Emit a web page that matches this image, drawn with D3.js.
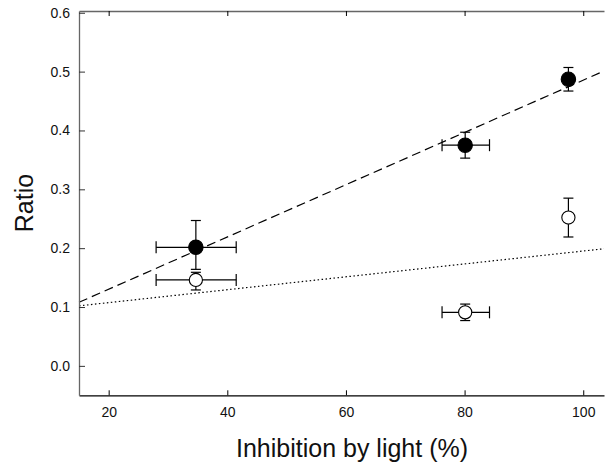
<!DOCTYPE html>
<html><head><meta charset="utf-8">
<script src="https://cdn.jsdelivr.net/npm/d3@7"></script>
<style>body{margin:0;background:#fff}svg{display:block}text{font-family:"Liberation Sans",Arial,sans-serif}</style>
</head><body><svg id="c" width="605" height="467"></svg>
<script>
const xTicks = [20, 40, 60, 80, 100];
const yTicks = [0.0, 0.1, 0.2, 0.3, 0.4, 0.5, 0.6];
// filled series
const filledX = [34.7, 80.1, 97.5];
const filledY = [0.2015, 0.375, 0.487];
const filledXLo = [28.0, 76.2, null];
const filledXHi = [41.5, 84.2, null];
const filledYLo = [0.164, 0.353, 0.467];
const filledYHi = [0.247, 0.397, 0.507];
// open series
const openX = [34.7, 80.1, 97.5];
const openY = [0.146, 0.091, 0.252];
const openXLo = [28.0, 76.2, null];
const openXHi = [41.5, 84.2, null];
const openYLo = [0.129, 0.077, 0.219];
const openYHi = [0.159, 0.105, 0.285];
// fitted lines [x0, x1] -> [y0, y1]
const dashedLineX = [15, 103.5];
const dashedLineY = [0.108, 0.501];
const dottedLineX = [15, 103.5];
const dottedLineY = [0.102, 0.199];

const L = 79, R = 604, T = 11, B = 395.3;
const x = d3.scaleLinear().domain([15, 103.5]).range([L, R]);
const y = d3.scaleLinear().domain([-0.05, 0.603]).range([B, T]);
const svg = d3.select("#c");

// lines
const line = d3.line().x(d => x(d[0])).y(d => y(d[1]));
svg.append("path").attr("d", line(dashedLineX.map((v,i)=>[v, dashedLineY[i]])))
  .attr("fill","none").attr("stroke","#000").attr("stroke-width",1.2).attr("stroke-dasharray","9,5");
svg.append("path").attr("d", line(dottedLineX.map((v,i)=>[v, dottedLineY[i]])))
  .attr("fill","none").attr("stroke","#000").attr("stroke-width",1.2).attr("stroke-dasharray","1.5,2.5");

// axes
const gx = svg.append("g").attr("transform",`translate(0,${B})`)
  .call(d3.axisBottom(x).tickValues(xTicks).tickSizeInner(-5).tickSizeOuter(0).tickPadding(12).tickFormat(d3.format("d")));
const gy = svg.append("g").attr("transform",`translate(${L},0)`)
  .call(d3.axisLeft(y).tickValues(yTicks).tickSizeInner(-6).tickSizeOuter(0).tickPadding(9).tickFormat(d3.format(".1f")));
const gt = svg.append("g").attr("transform",`translate(0,${T})`)
  .call(d3.axisTop(x).tickValues(xTicks).tickSizeInner(-5).tickSizeOuter(0).tickFormat(""));
gx.select(".domain").attr("stroke","#000").attr("stroke-width",1.3);
gy.select(".domain").attr("stroke","#666").attr("stroke-width",1.3);
gt.select(".domain").attr("stroke","#666").attr("stroke-width",1.3);
gy.selectAll(".tick line").attr("stroke","#333");
[gx, gy].forEach(g => g.selectAll("text").attr("font-size",14).attr("fill","#111").style("font-family","'Liberation Sans',Arial,sans-serif"));

// error bars + points
function series(xs, ys, xlo, xhi, ylo, yhi, filled) {
  const g = svg.append("g");
  xs.forEach((xv, i) => {
    const cx = x(xv), cy = y(ys[i]);
    if (xlo[i] != null) {
      g.append("line").attr("x1",x(xlo[i])).attr("x2",x(xhi[i])).attr("y1",cy).attr("y2",cy).attr("stroke","#000").attr("stroke-width",1.2);
      [xlo[i], xhi[i]].forEach(v => g.append("line").attr("x1",x(v)).attr("x2",x(v)).attr("y1",cy-6).attr("y2",cy+6).attr("stroke","#000").attr("stroke-width",1.2));
    }
    g.append("line").attr("x1",cx).attr("x2",cx).attr("y1",y(ylo[i])).attr("y2",y(yhi[i])).attr("stroke","#000").attr("stroke-width",1.2);
    [ylo[i], yhi[i]].forEach(v => g.append("line").attr("x1",cx-5).attr("x2",cx+5).attr("y1",y(v)).attr("y2",y(v)).attr("stroke","#000").attr("stroke-width",1.2));
  });
  g.selectAll("circle").data(xs).join("circle")
    .attr("cx", d => x(d)).attr("cy", (d,i) => y(ys[i]))
    .attr("r", filled ? 7.2 : 6.6)
    .attr("fill", filled ? "#000" : "#fff").attr("stroke","#000").attr("stroke-width",1.1);
}
series(openX, openY, openXLo, openXHi, openYLo, openYHi, false);
series(filledX, filledY, filledXLo, filledXHi, filledYLo, filledYHi, true);

// titles
svg.append("text").attr("x", 352).attr("y", 457).attr("text-anchor","middle")
  .attr("font-size",25).attr("fill","#111").text("Inhibition by light (%)");
svg.append("text").attr("transform","translate(33,203) rotate(-90)").attr("text-anchor","middle")
  .attr("font-size",25).attr("fill","#111").text("Ratio");
</script></body></html>
